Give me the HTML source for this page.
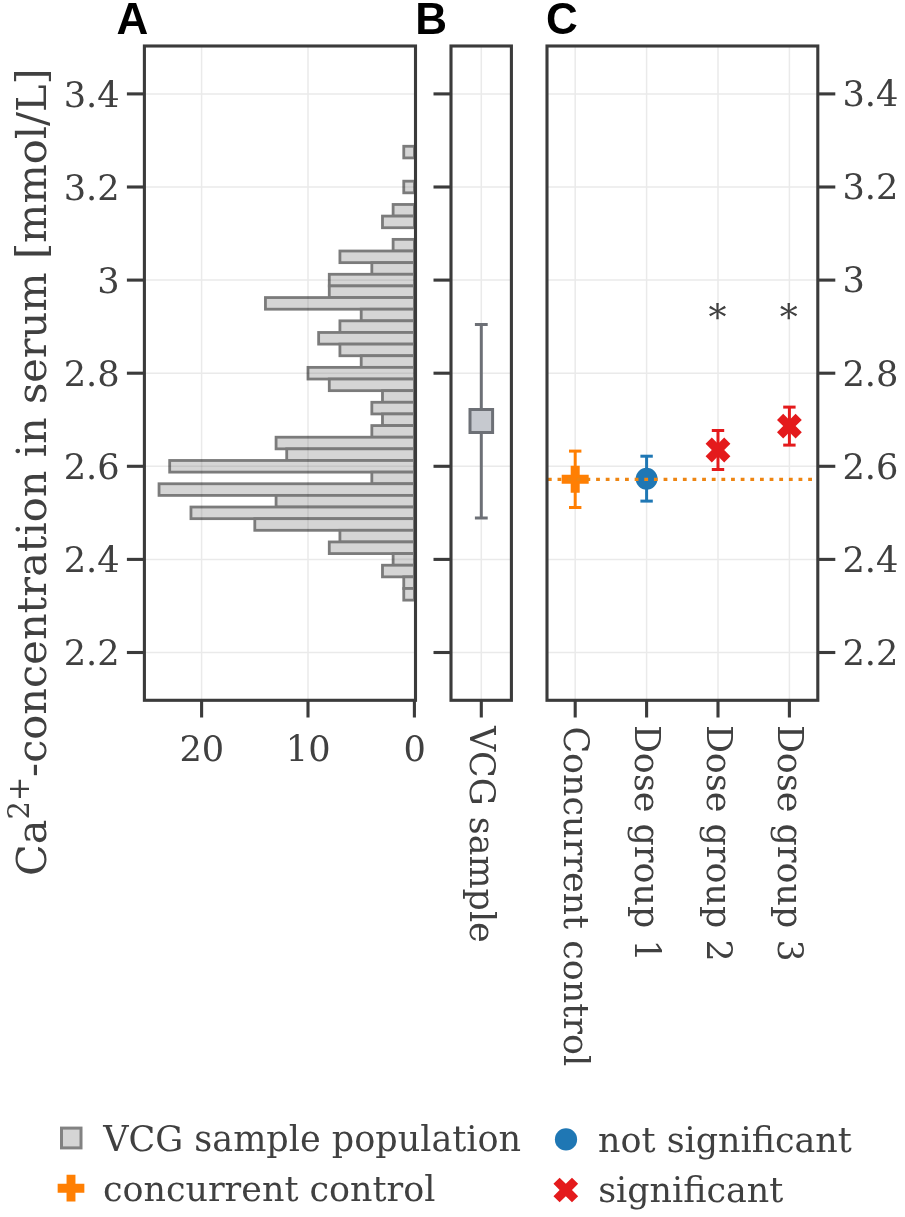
<!DOCTYPE html>
<html lang="en"><head><meta charset="utf-8"><title>Ca2+ concentration in serum</title>
<style>html,body{margin:0;padding:0;background:#fff}svg{display:block}</style></head>
<body>
<svg width="905" height="1217" viewBox="0 0 905 1217">
<rect width="905" height="1217" fill="#fff"/>
<g id="panelA">
<g stroke="#eaeaea" stroke-width="1.5" fill="none"><line x1="201.59999999999997" y1="46.0" x2="201.59999999999997" y2="700.3"/><line x1="308.0" y1="46.0" x2="308.0" y2="700.3"/><line x1="144.4" y1="93.90" x2="415.5" y2="93.90"/><line x1="144.4" y1="187.00" x2="415.5" y2="187.00"/><line x1="144.4" y1="280.10" x2="415.5" y2="280.10"/><line x1="144.4" y1="373.20" x2="415.5" y2="373.20"/><line x1="144.4" y1="466.30" x2="415.5" y2="466.30"/><line x1="144.4" y1="559.40" x2="415.5" y2="559.40"/><line x1="144.4" y1="652.50" x2="415.5" y2="652.50"/></g>
<clipPath id="barclip"><rect x="402.36" y="144.87" width="13.44" height="14.44" transform="translate(0,0)"/><rect x="402.36" y="179.78" width="13.44" height="14.44" transform="translate(0,0)"/><rect x="391.72" y="203.06" width="24.08" height="14.44" transform="translate(0,0)"/><rect x="381.08" y="214.69" width="34.72" height="14.44" transform="translate(0,0)"/><rect x="391.72" y="237.97" width="24.08" height="14.44" transform="translate(0,0)"/><rect x="338.52" y="249.61" width="77.28" height="14.44" transform="translate(0,0)"/><rect x="370.44" y="261.24" width="45.36" height="14.44" transform="translate(0,0)"/><rect x="327.88" y="272.88" width="87.92" height="14.44" transform="translate(0,0)"/><rect x="327.88" y="284.52" width="87.92" height="14.44" transform="translate(0,0)"/><rect x="264.04" y="296.16" width="151.76" height="14.44" transform="translate(0,0)"/><rect x="359.80" y="307.79" width="56.00" height="14.44" transform="translate(0,0)"/><rect x="338.52" y="319.43" width="77.28" height="14.44" transform="translate(0,0)"/><rect x="317.24" y="331.07" width="98.56" height="14.44" transform="translate(0,0)"/><rect x="338.52" y="342.71" width="77.28" height="14.44" transform="translate(0,0)"/><rect x="359.80" y="354.34" width="56.00" height="14.44" transform="translate(0,0)"/><rect x="306.60" y="365.98" width="109.20" height="14.44" transform="translate(0,0)"/><rect x="327.88" y="377.62" width="87.92" height="14.44" transform="translate(0,0)"/><rect x="381.08" y="389.26" width="34.72" height="14.44" transform="translate(0,0)"/><rect x="370.44" y="400.89" width="45.36" height="14.44" transform="translate(0,0)"/><rect x="381.08" y="412.53" width="34.72" height="14.44" transform="translate(0,0)"/><rect x="370.44" y="424.17" width="45.36" height="14.44" transform="translate(0,0)"/><rect x="274.68" y="435.81" width="141.12" height="14.44" transform="translate(0,0)"/><rect x="285.32" y="447.44" width="130.48" height="14.44" transform="translate(0,0)"/><rect x="168.28" y="459.08" width="247.52" height="14.44" transform="translate(0,0)"/><rect x="370.44" y="470.72" width="45.36" height="14.44" transform="translate(0,0)"/><rect x="157.64" y="482.36" width="258.16" height="14.44" transform="translate(0,0)"/><rect x="274.68" y="493.99" width="141.12" height="14.44" transform="translate(0,0)"/><rect x="189.56" y="505.63" width="226.24" height="14.44" transform="translate(0,0)"/><rect x="253.40" y="517.27" width="162.40" height="14.44" transform="translate(0,0)"/><rect x="338.52" y="528.91" width="77.28" height="14.44" transform="translate(0,0)"/><rect x="327.88" y="540.54" width="87.92" height="14.44" transform="translate(0,0)"/><rect x="391.72" y="552.18" width="24.08" height="14.44" transform="translate(0,0)"/><rect x="381.08" y="563.82" width="34.72" height="14.44" transform="translate(0,0)"/><rect x="402.36" y="575.46" width="13.44" height="14.44" transform="translate(0,0)"/><rect x="402.36" y="587.09" width="13.44" height="14.44" transform="translate(0,0)"/></clipPath>
<g fill="#d5d5d5" stroke="#7b7b7b" stroke-width="2.8"><rect x="403.76" y="146.27" width="10.64" height="11.64"/><rect x="403.76" y="181.18" width="10.64" height="11.64"/><rect x="393.12" y="204.46" width="21.28" height="11.64"/><rect x="382.48" y="216.09" width="31.92" height="11.64"/><rect x="393.12" y="239.37" width="21.28" height="11.64"/><rect x="339.92" y="251.01" width="74.48" height="11.64"/><rect x="371.84" y="262.64" width="42.56" height="11.64"/><rect x="329.28" y="274.28" width="85.12" height="11.64"/><rect x="329.28" y="285.92" width="85.12" height="11.64"/><rect x="265.44" y="297.56" width="148.96" height="11.64"/><rect x="361.20" y="309.19" width="53.20" height="11.64"/><rect x="339.92" y="320.83" width="74.48" height="11.64"/><rect x="318.64" y="332.47" width="95.76" height="11.64"/><rect x="339.92" y="344.11" width="74.48" height="11.64"/><rect x="361.20" y="355.74" width="53.20" height="11.64"/><rect x="308.00" y="367.38" width="106.40" height="11.64"/><rect x="329.28" y="379.02" width="85.12" height="11.64"/><rect x="382.48" y="390.66" width="31.92" height="11.64"/><rect x="371.84" y="402.29" width="42.56" height="11.64"/><rect x="382.48" y="413.93" width="31.92" height="11.64"/><rect x="371.84" y="425.57" width="42.56" height="11.64"/><rect x="276.08" y="437.21" width="138.32" height="11.64"/><rect x="286.72" y="448.84" width="127.68" height="11.64"/><rect x="169.68" y="460.48" width="244.72" height="11.64"/><rect x="371.84" y="472.12" width="42.56" height="11.64"/><rect x="159.04" y="483.76" width="255.36" height="11.64"/><rect x="276.08" y="495.39" width="138.32" height="11.64"/><rect x="190.96" y="507.03" width="223.44" height="11.64"/><rect x="254.80" y="518.67" width="159.60" height="11.64"/><rect x="339.92" y="530.31" width="74.48" height="11.64"/><rect x="329.28" y="541.94" width="85.12" height="11.64"/><rect x="393.12" y="553.58" width="21.28" height="11.64"/><rect x="382.48" y="565.22" width="31.92" height="11.64"/><rect x="403.76" y="576.86" width="10.64" height="11.64"/><rect x="403.76" y="588.49" width="10.64" height="11.64"/></g>
<g clip-path="url(#barclip)" stroke="#000" stroke-opacity="0.07" stroke-width="1.6"><line x1="201.60" y1="46.0" x2="201.60" y2="700.3"/><line x1="308.00" y1="46.0" x2="308.00" y2="700.3"/><line x1="144.4" y1="93.90" x2="415.5" y2="93.90"/><line x1="144.4" y1="187.00" x2="415.5" y2="187.00"/><line x1="144.4" y1="280.10" x2="415.5" y2="280.10"/><line x1="144.4" y1="373.20" x2="415.5" y2="373.20"/><line x1="144.4" y1="466.30" x2="415.5" y2="466.30"/><line x1="144.4" y1="559.40" x2="415.5" y2="559.40"/><line x1="144.4" y1="652.50" x2="415.5" y2="652.50"/></g>
<rect x="144.4" y="46.0" width="271.10" height="654.30" fill="none" stroke="#3b3b3b" stroke-width="3.1"/>
<g stroke="#3b3b3b" stroke-width="3.1"><line x1="126.9" y1="93.90" x2="144.4" y2="93.90"/><line x1="126.9" y1="187.00" x2="144.4" y2="187.00"/><line x1="126.9" y1="280.10" x2="144.4" y2="280.10"/><line x1="126.9" y1="373.20" x2="144.4" y2="373.20"/><line x1="126.9" y1="466.30" x2="144.4" y2="466.30"/><line x1="126.9" y1="559.40" x2="144.4" y2="559.40"/><line x1="126.9" y1="652.50" x2="144.4" y2="652.50"/><line x1="201.60" y1="700.3" x2="201.60" y2="717.5"/><line x1="308.00" y1="700.3" x2="308.00" y2="717.5"/><line x1="414.40" y1="700.3" x2="414.40" y2="717.5"/></g>
<g font-family='"DejaVu Serif", "Liberation Serif", serif' font-size="35.2" fill="#404040"><text x="119.6" y="106.80" text-anchor="end">3.4</text><text x="119.6" y="199.90" text-anchor="end">3.2</text><text x="119.6" y="293.00" text-anchor="end">3</text><text x="119.6" y="386.10" text-anchor="end">2.8</text><text x="119.6" y="479.20" text-anchor="end">2.6</text><text x="119.6" y="572.30" text-anchor="end">2.4</text><text x="119.6" y="665.40" text-anchor="end">2.2</text><text x="201.80" y="761.2" text-anchor="middle">20</text><text x="308.20" y="761.2" text-anchor="middle">10</text><text x="414.60" y="761.2" text-anchor="middle">0</text></g>
</g>
<g id="panelB">
<g stroke="#eaeaea" stroke-width="1.5" fill="none"><line x1="481.3" y1="46.0" x2="481.3" y2="700.3"/><line x1="451.0" y1="93.90" x2="511.4" y2="93.90"/><line x1="451.0" y1="187.00" x2="511.4" y2="187.00"/><line x1="451.0" y1="280.10" x2="511.4" y2="280.10"/><line x1="451.0" y1="373.20" x2="511.4" y2="373.20"/><line x1="451.0" y1="466.30" x2="511.4" y2="466.30"/><line x1="451.0" y1="559.40" x2="511.4" y2="559.40"/><line x1="451.0" y1="652.50" x2="511.4" y2="652.50"/></g>
<g stroke="#6d7076" stroke-width="3" fill="none"><line x1="481.3" y1="324.5" x2="481.3" y2="518"/><line x1="474.90000000000003" y1="324.5" x2="487.7" y2="324.5"/><line x1="474.90000000000003" y1="518" x2="487.7" y2="518"/></g>
<rect x="470.0" y="409.5" width="22.6" height="23" fill="#c6c9cf" stroke="#6d7076" stroke-width="3"/>
<rect x="451.0" y="46.0" width="60.40" height="654.30" fill="none" stroke="#3b3b3b" stroke-width="3.1"/>
<g stroke="#3b3b3b" stroke-width="3.1"><line x1="433.5" y1="93.90" x2="451.0" y2="93.90"/><line x1="433.5" y1="187.00" x2="451.0" y2="187.00"/><line x1="433.5" y1="280.10" x2="451.0" y2="280.10"/><line x1="433.5" y1="373.20" x2="451.0" y2="373.20"/><line x1="433.5" y1="466.30" x2="451.0" y2="466.30"/><line x1="433.5" y1="559.40" x2="451.0" y2="559.40"/><line x1="433.5" y1="652.50" x2="451.0" y2="652.50"/><line x1="481.3" y1="700.3" x2="481.3" y2="717.5"/></g>
<text transform="translate(469.60,725.9) rotate(90)" font-family='"DejaVu Serif", "Liberation Serif", serif' font-size="34.9" fill="#404040">VCG sample</text>
</g>
<g id="panelC">
<g stroke="#eaeaea" stroke-width="1.5" fill="none"><line x1="575.2" y1="46.0" x2="575.2" y2="700.3"/><line x1="646.6" y1="46.0" x2="646.6" y2="700.3"/><line x1="718.0" y1="46.0" x2="718.0" y2="700.3"/><line x1="789.4" y1="46.0" x2="789.4" y2="700.3"/><line x1="547.0" y1="93.90" x2="817.8" y2="93.90"/><line x1="547.0" y1="187.00" x2="817.8" y2="187.00"/><line x1="547.0" y1="280.10" x2="817.8" y2="280.10"/><line x1="547.0" y1="373.20" x2="817.8" y2="373.20"/><line x1="547.0" y1="466.30" x2="817.8" y2="466.30"/><line x1="547.0" y1="559.40" x2="817.8" y2="559.40"/><line x1="547.0" y1="652.50" x2="817.8" y2="652.50"/></g>
<g stroke="#ff7f03" stroke-width="3" fill="none"><line x1="575.2" y1="451.1" x2="575.2" y2="507.5"/><line x1="569.0" y1="451.1" x2="581.4000000000001" y2="451.1"/><line x1="569.0" y1="507.5" x2="581.4000000000001" y2="507.5"/></g>
<polygon fill="#ff7f03" points="570.70,465.70 579.70,465.70 579.70,474.70 588.70,474.70 588.70,483.70 579.70,483.70 579.70,492.70 570.70,492.70 570.70,483.70 561.70,483.70 561.70,474.70 570.70,474.70"/>
<g stroke="#1f77b4" stroke-width="3" fill="none"><line x1="646.6" y1="456.2" x2="646.6" y2="501.1"/><line x1="640.4" y1="456.2" x2="652.8000000000001" y2="456.2"/><line x1="640.4" y1="501.1" x2="652.8000000000001" y2="501.1"/></g>
<circle cx="646.6" cy="478.7" r="10.9" fill="#1f77b4"/>
<g stroke="#e41a1c" stroke-width="3" fill="none"><line x1="718.0" y1="430.5" x2="718.0" y2="469.5"/><line x1="711.8" y1="430.5" x2="724.2" y2="430.5"/><line x1="711.8" y1="469.5" x2="724.2" y2="469.5"/></g>
<polygon fill="#e41a1c" points="711.80,437.60 718.00,443.80 724.20,437.60 730.40,443.80 724.20,450.00 730.40,456.20 724.20,462.40 718.00,456.20 711.80,462.40 705.60,456.20 711.80,450.00 705.60,443.80"/>
<g stroke="#e41a1c" stroke-width="3" fill="none"><line x1="789.4" y1="407.1" x2="789.4" y2="445.1"/><line x1="783.1999999999999" y1="407.1" x2="795.6" y2="407.1"/><line x1="783.1999999999999" y1="445.1" x2="795.6" y2="445.1"/></g>
<polygon fill="#e41a1c" points="783.20,413.70 789.40,419.90 795.60,413.70 801.80,419.90 795.60,426.10 801.80,432.30 795.60,438.50 789.40,432.30 783.20,438.50 777.00,432.30 783.20,426.10 777.00,419.90"/>
<line x1="547.9" y1="479.4" x2="813" y2="479.4" stroke="#ee8512" stroke-width="3.3" stroke-dasharray="3.8 5.84"/>
<rect x="547.0" y="46.0" width="270.80" height="654.30" fill="none" stroke="#3b3b3b" stroke-width="3.1"/>
<g stroke="#3b3b3b" stroke-width="3.1"><line x1="817.8" y1="93.90" x2="835.3" y2="93.90"/><line x1="817.8" y1="187.00" x2="835.3" y2="187.00"/><line x1="817.8" y1="280.10" x2="835.3" y2="280.10"/><line x1="817.8" y1="373.20" x2="835.3" y2="373.20"/><line x1="817.8" y1="466.30" x2="835.3" y2="466.30"/><line x1="817.8" y1="559.40" x2="835.3" y2="559.40"/><line x1="817.8" y1="652.50" x2="835.3" y2="652.50"/><line x1="575.2" y1="700.3" x2="575.2" y2="717.5"/><line x1="646.6" y1="700.3" x2="646.6" y2="717.5"/><line x1="718.0" y1="700.3" x2="718.0" y2="717.5"/><line x1="789.4" y1="700.3" x2="789.4" y2="717.5"/></g>
<g font-family='"DejaVu Serif", "Liberation Serif", serif' font-size="35.2" fill="#404040"><text x="842.4" y="106.20">3.4</text><text x="842.4" y="199.30">3.2</text><text x="842.4" y="292.40">3</text><text x="842.4" y="385.50">2.8</text><text x="842.4" y="478.60">2.6</text><text x="842.4" y="571.70">2.4</text><text x="842.4" y="664.80">2.2</text></g>
<g font-family='"DejaVu Serif", "Liberation Serif", serif' font-size="34.9" fill="#404040"><text transform="translate(564.10,726.4) rotate(90)">Concurrent control</text><text transform="translate(635.20,724.9) rotate(90)">Dose group 1</text><text transform="translate(706.60,724.9) rotate(90)">Dose group 2</text><text transform="translate(778.00,724.9) rotate(90)">Dose group 3</text><text x="717.4" y="330.2" text-anchor="middle" font-size="36">*</text><text x="788.8" y="330.2" text-anchor="middle" font-size="36">*</text></g>
</g>
<g font-family='"Liberation Sans", "DejaVu Sans", sans-serif' font-weight="700" font-size="44" fill="#000"><text x="116.4" y="33.5">A</text><text x="415.3" y="33.5">B</text><text x="545.9" y="33.7">C</text></g>
<g font-family='"DejaVu Serif", "Liberation Serif", serif' fill="#404040" transform="translate(46.0,0) rotate(-90)"><text x="-875.9" y="0" font-size="41.5">Ca</text><text x="-819.6" y="-17.5" font-size="29.05">2+</text><text x="-776.9" y="0" font-size="41.5">-concentration in serum [mmol/L]</text></g>
<g font-family='"DejaVu Serif", "Liberation Serif", serif' font-size="34.9" fill="#404040"><text x="103.2" y="1151" font-size="35">VCG sample population</text><text x="102.9" y="1201.3">concurrent control</text><text x="598.1" y="1151.6">not significant</text><text x="598.2" y="1201.5">significant</text></g>
<rect x="61.5" y="1128.1" width="19.5" height="19.8" fill="#d5d5d5" stroke="#828282" stroke-width="3"/>
<polygon fill="#ff7f03" points="66.55,1174.85 75.45,1174.85 75.45,1183.75 84.35,1183.75 84.35,1192.65 75.45,1192.65 75.45,1201.55 66.55,1201.55 66.55,1192.65 57.65,1192.65 57.65,1183.75 66.55,1183.75"/>
<circle cx="566" cy="1139.4" r="11.1" fill="#1f77b4"/>
<polygon fill="#e41a1c" points="559.62,1177.65 565.80,1183.83 571.97,1177.65 578.15,1183.83 571.97,1190.00 578.15,1196.17 571.97,1202.35 565.80,1196.17 559.62,1202.35 553.45,1196.17 559.62,1190.00 553.45,1183.83"/>
</svg>
</body></html>
